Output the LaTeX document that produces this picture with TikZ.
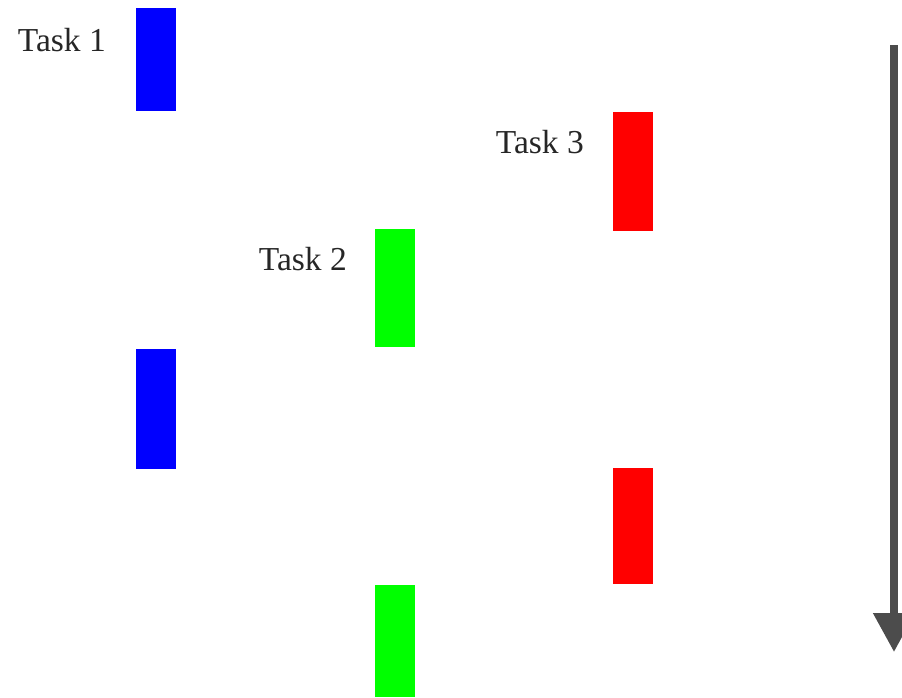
\documentclass[tikz,border=0pt]{standalone}
\usepackage{fontspec}
\setmainfont{Liberation Serif}
\usepackage{tikz}
\usetikzlibrary{arrows.meta,positioning}
\tikzset{
  taskbar/.style={draw=none, minimum width=40pt, inner sep=0pt,
    anchor=north west},
  tasklabel/.style={anchor=east, inner sep=0pt, text=black!85,
    font=\fontsize{33.5}{38}\selectfont},
  timearrow/.style={-{Triangle[length=39pt, width=40pt]}, line width=8pt,
    draw=black!70}
}

\begin{document}
\begin{tikzpicture}[x=1pt, y=-1pt]
  \useasboundingbox (0,0) rectangle (902,697);
  \node[taskbar, fill=blue, minimum height=103pt] (t1a) at (136,8) {};
  \node[taskbar, fill=blue, minimum height=120pt] (t1b) at (136,349) {};
  \node[taskbar, fill=green, minimum height=118pt] (t2a) at (375,229) {};
  \node[taskbar, fill=green, minimum height=112pt] (t2b) at (375,585) {};
  \node[taskbar, fill=red, minimum height=119pt] (t3a) at (613,112) {};
  \node[taskbar, fill=red, minimum height=116pt] (t3b) at (613,468) {};

  \node[tasklabel] (l1) at ([xshift=-30pt, yshift=-32pt]t1a.north west)
    {Task 1};
  \node[tasklabel] (l2) at ([xshift=-28pt, yshift=-30pt]t2a.north west)
    {Task 2};
  \node[tasklabel] (l3) at ([xshift=-29pt, yshift=-30pt]t3a.north west)
    {Task 3};

  \coordinate (start) at (894,45);
  \coordinate (stop) at (894,652);
  \draw[timearrow] (start) -- (stop);
\end{tikzpicture}
\end{document}
